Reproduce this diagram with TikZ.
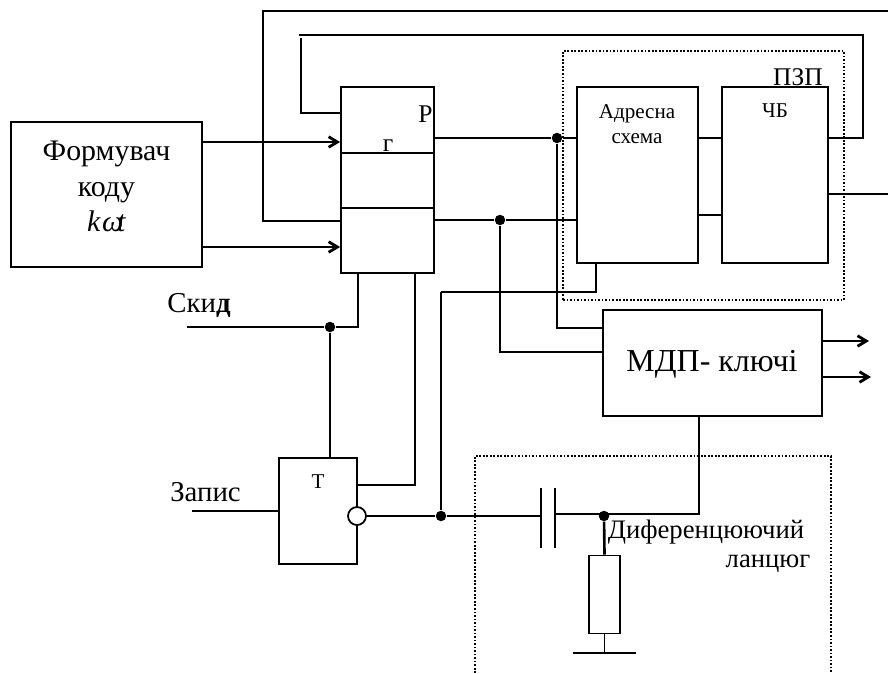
\documentclass[tikz,border=0pt]{standalone}
\usepackage{fontspec}
\setmainfont{Liberation Serif}
\usetikzlibrary{arrows.meta, positioning}
\tikzset{x=0.02cm, y=-0.02cm,
  wire/.style={line width=1pt},
  heavy/.style={line width=1.5pt},
  feed/.style={line width=1.6pt, -{Straight Barb[length=5pt,width=6pt]}},
  frame/.style={line width=0.85pt, dash pattern=on 1pt off 1pt},
  blockbox/.style={draw, line width=1pt, inner sep=0pt},
  junction/.style={circle, fill=black, inner sep=0pt, minimum size=0.21cm},
  hugetxt/.style={font=\fontsize{18.2}{20}\selectfont, inner sep=0pt, align=center},
  bigtxt/.style={font=\fontsize{17}{20}\selectfont, inner sep=0pt, align=center},
  midtxt/.style={font=\fontsize{16.4}{20}\selectfont, inner sep=0pt, align=center},
  chaintxt/.style={font=\fontsize{15.2}{20}\selectfont, inner sep=0pt, align=center},
  regtxt/.style={font=\fontsize{14.5}{20}\selectfont, inner sep=0pt, align=center},
  smalltxt/.style={font=\fontsize{12}{14.5}\selectfont, inner sep=0pt, align=center}}
\begin{document}
\begin{tikzpicture}
\useasboundingbox (0,0) rectangle (888,673);
% ====== dotted frames ======
\node[draw, frame, inner sep=0pt, minimum width=5.62cm, minimum height=4.98cm] (pzp) at (703.5,175.5) {};
\draw[frame] (475,673) -- (475,456) -- (831,456) -- (831,673);
% ====== blocks ======
\node[blockbox, minimum width=3.82cm, minimum height=2.9cm] (form) at (106.5,194.5) {};
\node[blockbox, minimum width=1.86cm, minimum height=3.72cm] (rg) at (387.5,180) {};
\node[blockbox, minimum width=2.42cm, minimum height=3.52cm] (addr) at (637.5,175) {};
\node[blockbox, minimum width=2.12cm, minimum height=3.52cm] (bits) at (775,175) {};
\node[blockbox, minimum width=4.38cm, minimum height=2.12cm] (mdp) at (712.5,363) {};
\node[blockbox, minimum width=1.56cm, minimum height=2.12cm] (trig) at (318,511) {};
\node[blockbox, minimum width=0.62cm, minimum height=1.56cm] (res) at (604.5,594.5) {};
% register dividers
\draw[wire] (rg.west |- 0,153) -- (rg.east |- 0,153);
\draw[wire] (rg.west |- 0,208) -- (rg.east |- 0,208);
% ====== labels ======
\node[bigtxt] (formlab) at (106.5,186.5) {Формувач\\коду\\\textit{k\kern1pt ω\kern-3.5pt t}};
\node[regtxt] (rglabP) at (425.5,114) {Р};
\node[regtxt] (rglabG) at (388,146) {г};
\node[regtxt] (pzplab) at (798,77) {ПЗП};
\node[smalltxt] (addrlab) at (637,124) {Адресна\\схема};
\node[smalltxt] (bitslab) at (775,111) {ЧБ};
\node[hugetxt] (mdplab) at (712,364) {МДП- ключі};
\node[smalltxt] (triglab) at (318,482) {Т};
\node[midtxt] (resetlab) at (199,305) {Ски\textbf{д}};
\node[midtxt] (writelab) at (205.5,492) {Запис};
\node[chaintxt] (difflab) at (706,532) {Диференцюючий};
\node[chaintxt] (chainlab) at (768,564) {ланцюг};
% ====== named junctions ======
\node[junction] (jA) at (557,138) {};
\node[junction] (jB) at (500,220) {};
\node[junction] (jR) at (330,327) {};
\node[junction] (jT) at (441,516) {};
\node[junction] (jC) at (604,516) {};
\node[circle, draw, fill=white, line width=1pt, inner sep=0pt, minimum size=0.36cm] (inv) at (357,516) {};
% ====== code inputs and feedback buses ======
\draw[feed] (form.east |- 0,142) -- (rg.west |- 0,142);
\draw[feed] (form.east |- 0,247) -- (rg.west |- 0,247);
\draw[wire] (888,11) -- (263,11) -- (263,221) -- (rg.west |- 0,221);
\draw[wire] (299,35) -- (863,35) -- (863,138) -- (bits.east |- 0,138);
\draw[wire] (301,38) -- (301,113) -- (rg.west |- 0,113);
% ====== register to address scheme ======
\draw[wire] (rg.east |- 0,138) -- (jA) -- (addr.west |- 0,138);
\draw[wire] (rg.east |- 0,220) -- (jB) -- (addr.west |- 0,220);
\draw[wire] (addr.east |- 0,138) -- (bits.west |- 0,138);
\draw[wire] (addr.east |- 0,215) -- (bits.west |- 0,215);
\draw[wire] (bits.east |- 0,194) -- (888,194);
\draw[heavy] (jA) -- (557,328) -- (mdp.west |- 0,328);
\draw[heavy] (jB) -- (500,352) -- (mdp.west |- 0,352);
% ====== key outputs ======
\draw[feed] (mdp.east |- 0,341) -- (869,341);
\draw[feed] (mdp.east |- 0,377) -- (871,377);
% ====== reset, write, trigger ======
\draw[wire] (187,327) -- (jR) -- (358,327) -- (rg.south -| 358,0);
\draw[heavy] (jR) -- (trig.north -| jR);
\draw[heavy] (192,511) -- (trig.west |- 0,511);
\draw[wire] (trig.east |- 0,485) -- (415,485) -- (rg.south -| 415,0);
\draw[wire] (inv) -- (jT);
\draw[heavy] (jT) -- (441,292);
\draw[wire] (441,292) -- (596,292) -- (addr.south -| 596,0);
% ====== differentiating chain ======
\draw[wire] (jT) -- (541,516);
\draw[wire] (541,488) -- (541,548);
\draw[heavy] (555,488) -- (555,548);
\draw[wire] (555,514) -- (699,514) -- (mdp.south -| 699,0);
\draw[heavy] (jC) -- (res.north);
\draw[wire] (res.south) -- (604.5,653);
\draw[heavy] (573,653) -- (636,653);
\end{tikzpicture}
\end{document}
